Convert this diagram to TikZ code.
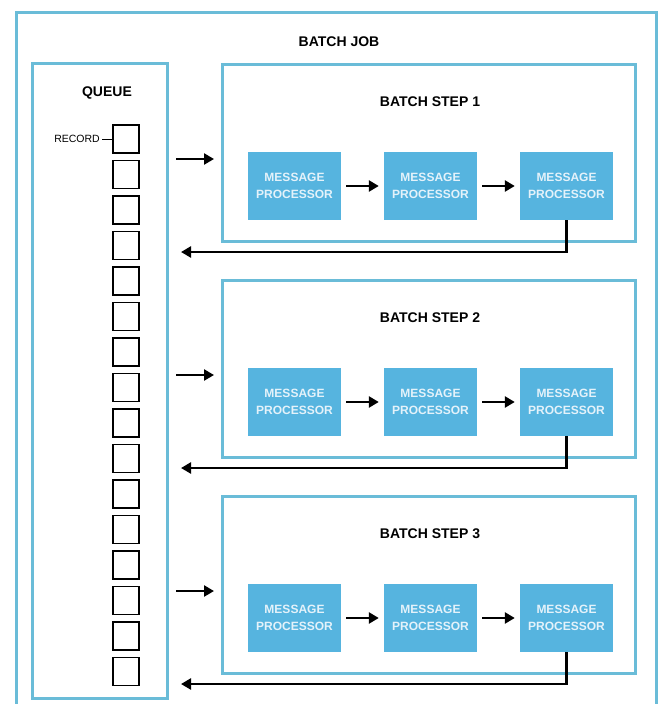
\documentclass[tikz,border=0pt]{standalone}
\usepackage{fontspec}
\setmainfont{Liberation Sans}
\usetikzlibrary{arrows.meta}
\definecolor{boxblue}{RGB}{106,188,216}
\definecolor{mpblue}{RGB}{86,180,223}
\definecolor{mptext}{RGB}{228,242,250}
\tikzset{
    BX/.style ={rectangle, draw=boxblue, line width=3pt, inner sep=0pt},
    MP/.style ={rectangle, fill=mpblue, text=mptext, minimum width=93pt, minimum height=68pt,
                align=center, font=\fontsize{12}{17}\selectfont\bfseries, inner sep=0pt},
    RC/.style ={rectangle, draw, line width=1.5pt, minimum width=26pt, minimum height=28pt, inner sep=0pt},
    TT/.style ={font=\fontsize{14}{16}\selectfont\bfseries},
    AR/.style ={line width=2.5pt, -{Triangle[length=10pt,width=11pt]}}}

\begin{document}
\begin{tikzpicture}[x=1pt,y=-1pt]
    \useasboundingbox[fill=white] (0,0) rectangle (664,704);
    % batch job and queue
    \node[BX, minimum width=640pt, minimum height=700pt] (job) at (336,362) {};
    \node[TT] (jobtitle) at (339,42) {BATCH JOB};
    \node[BX, minimum width=135pt, minimum height=635pt] (queue) at (99.5,380.5) {};
    \node[TT] (queuetitle) at (107,93) {QUEUE};
    \foreach \k in {0,...,15}
        \node[RC] (rec\k) at (126,139+35.5*\k) {};
    \node[anchor=east, inner sep=2pt, font=\fontsize{10.5}{12}\selectfont] (reclabel) at (102,139) {RECORD};
    \draw[line width=0.8pt] (reclabel.east) -- (rec0.west);
    % batch steps
    \foreach \i/\t in {1/64,2/280,3/496}{
        \node[BX, minimum width=413pt, minimum height=177pt] (step\i) at (428.5,\t+88.5) {};
        \node[TT] (steptitle\i) at (430,\t+38) {BATCH STEP \i};
        \node[MP] (mp\i a) at (294.5,\t+122) {MESSAGE\\PROCESSOR};
        \node[MP] (mp\i b) at (430.5,\t+122) {MESSAGE\\PROCESSOR};
        \node[MP] (mp\i c) at (566.5,\t+122) {MESSAGE\\PROCESSOR};
        \draw[AR, shorten <=5pt, shorten >=5pt] (mp\i a) -- (mp\i b);
        \draw[AR, shorten <=5pt, shorten >=5pt] (mp\i b) -- (mp\i c);
        \coordinate (in\i) at (176,\t+95);
        \coordinate (into\i) at (214,\t+95);
        \draw[AR] (in\i) -- (into\i);
        \coordinate (ret\i) at (181,\t+188);
        \draw[AR] (mp\i c.south) |- (ret\i);
    }
\end{tikzpicture}
\end{document}
